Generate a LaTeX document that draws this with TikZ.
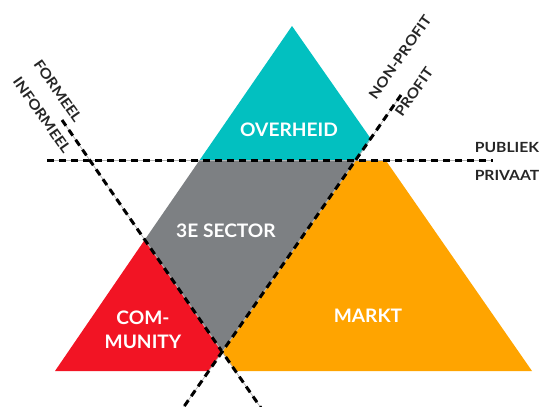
\documentclass[tikz,border=0pt]{standalone}
\usepackage{fontspec}
\setmainfont{Lato}
\usepackage{tikz}
\definecolor{overheidcol}{RGB}{2,192,192}
\definecolor{sectorcol}{RGB}{125,128,131}
\definecolor{communitycol}{RGB}{242,20,36}
\definecolor{marktcol}{RGB}{255,164,0}
\tikzstyle{divider} = [line width=3pt, dash pattern=on 7pt off 5pt, preaction={draw, gray!60, line width=0.7pt, solid}]
\tikzstyle{sector} = [text=white, font=\bfseries\addfontfeature{FakeStretch=1.03}\fontsize{18.6}{24}\selectfont, align=center, inner sep=0pt]
\tikzstyle{axis} = [text=black!85, font=\bfseries\addfontfeature{FakeStretch=1.12}\fontsize{14}{16}\selectfont, inner sep=0pt]

\begin{document}
\begin{tikzpicture}[x=1pt, y=-1pt]
        \useasboundingbox (0,0) rectangle (541,407);
        \coordinate (apex) at (292,26);
        \coordinate (bl) at (55,371);
        \coordinate (br) at (532,371);
        \coordinate (cross) at (222,352);
        \coordinate (lpub) at (199.7,160);
        \coordinate (npub) at (356,160);
        \coordinate (rpub) at (385.5,160);
        \coordinate (ntop) at (371,139);
        \coordinate (fleft) at (144.6,240);
        \coordinate (nbase) at (208.7,371);
        \coordinate (fbase) at (235.1,371);

        % vlakken
        \fill[overheidcol] (apex) -- (lpub) -- (npub) -- (ntop) -- cycle;
        \fill[sectorcol] (lpub) -- (npub) -- (cross) -- (fleft) -- cycle;
        \fill[communitycol] (fleft) -- (cross) -- (nbase) -- (bl) -- cycle;
        \fill[marktcol] (npub) -- (rpub) -- (br) -- (fbase) -- (cross) -- cycle;

        \node[sector] at (289,130) (overheid) {OVERHEID};
        \node[sector] at (226,231) (derde) {3E SECTOR};
        \node[sector] at (143,330) (community) {COM-\\MUNITY};
        \node[sector] at (368,316) (markt) {MARKT};

        % scheidslijnen
        \coordinate (h1) at (47,160);
        \coordinate (h2) at (493,160);
        \coordinate (f1) at (62,120);
        \coordinate (f2) at (261,408);
        \coordinate (n1) at (401,95);
        \coordinate (n2) at (183,408);
        \draw[divider] (h1) -- (h2);
        \draw[divider] (f1) -- (f2);
        \draw[divider] (n1) -- (n2);

        \node[axis] at (507,147) (publiek) {PUBLIEK};
        \node[axis] at (507,175) (privaat) {PRIVAAT};
        \node[axis, rotate=-55] at (58,91) (formeel) {FORMEEL};
        \node[axis, rotate=-55] at (42,115) (informeel) {INFORMEEL};
        \node[axis, rotate=55] at (400,57) (nonprofit) {NON-PROFIT};
        \node[axis, rotate=55] at (414,92) (profit) {PROFIT};

    \end{tikzpicture}
\end{document}
